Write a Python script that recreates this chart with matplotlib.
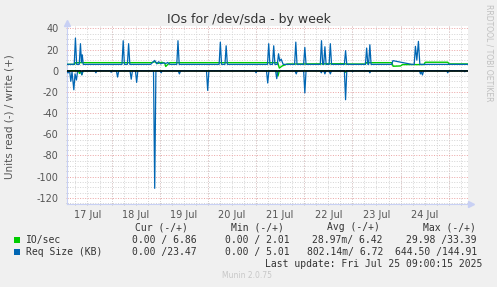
import matplotlib
matplotlib.use("Agg")
import matplotlib.pyplot as plt
from matplotlib.ticker import FixedLocator, MultipleLocator
from matplotlib.patches import Rectangle

plt.rcParams['axes.unicode_minus'] = False
plt.rcParams['font.family'] = ['DejaVu Sans']

# ---------------- data (time in hours since 17 Jul 00:00) ----------------
day_labels = ["17 Jul", "18 Jul", "19 Jul", "20 Jul", "21 Jul", "22 Jul", "23 Jul", "24 Jul"]
day_label_hours = [12, 36, 60, 84, 108, 132, 156, 180]
day_boundaries = [24, 48, 72, 96, 120, 144, 168, 192]
x_range = [1.8, 201.6]
y_range = [-125.8, 42.2]

# IO/sec (green) - write (+)
io_write_t = [1.8, 5.5, 6.0, 44.0, 45.5, 47.0, 49.0, 50.5, 51.0, 51.5, 53.0,
              106.8, 107.6, 109.0, 111.5, 140.0, 141.0, 150.5, 151.0, 163.6,
              164.3, 168.0, 169.0, 179.7, 180.3, 191.5, 192.2, 201.6]
io_write_v = [6.0, 6.0, 7.6, 7.6, 8.5, 6.8, 8.0, 7.0, 4.0, 5.0, 7.6,
              7.6, 2.5, 4.5, 6.3, 6.6, 6.3, 6.3, 7.6, 7.6,
              4.2, 4.5, 5.8, 5.8, 8.0, 8.0, 6.4, 6.4]
# IO/sec (green) - read (-), magnitudes
io_read_t = [1.8, 7.5, 8.0, 8.6, 9.2, 9.8, 106.2, 106.9, 107.6, 139.9, 140.4, 141.0, 201.6]
io_read_v = [0, 0, 2.5, 1.0, 3.5, 0, 0, 5.0, 0, 0, 1.5, 0, 0]

# Req Size (KB) (blue) - write (+)
req_write_t = [1.8,
               5.4, 6.0, 6.6,
               7.9, 8.5, 9.0, 9.4, 9.9,
               29.2, 29.8, 30.4,
               31.9, 32.5, 33.1,
               43.5, 44.5, 45.5, 46.5, 47.5, 48.5, 50.0, 51.0, 52.0, 53.0,
               56.5, 57.1, 57.7,
               77.6, 78.2, 78.8,
               80.5, 81.1, 81.7,
               101.7, 102.3, 102.9,
               104.2, 104.8, 105.4,
               106.6, 107.2, 107.8, 108.5, 109.5,
               115.2, 115.8, 116.4,
               119.7, 120.3, 120.9,
               128.0, 128.6, 129.2,
               129.7, 130.3, 130.9,
               132.4, 133.0, 133.6,
               140.0, 140.6, 141.2,
               150.5, 151.1, 151.7,
               152.1, 152.7, 153.3,
               163.6, 164.2, 173.5,
               174.8, 175.4, 176.1, 176.9, 177.6,
               201.6]
req_write_v = [6.0,
               6.0, 30.8, 6.0,
               6.0, 25.5, 8.0, 15.0, 6.0,
               6.0, 28.3, 6.0,
               6.0, 25.5, 6.0,
               6.0, 8.0, 9.7, 6.5, 8.5, 6.5, 7.5, 6.8, 7.8, 6.0,
               6.0, 28.3, 6.0,
               6.0, 27.0, 6.0,
               6.0, 23.5, 6.0,
               6.0, 25.5, 6.0,
               6.0, 23.5, 6.0,
               6.0, 16.0, 9.0, 11.0, 6.0,
               6.0, 27.0, 6.0,
               6.0, 22.0, 6.0,
               6.0, 28.3, 6.0,
               6.0, 22.6, 6.0,
               6.0, 25.5, 6.0,
               6.0, 18.9, 6.0,
               6.0, 21.4, 6.0,
               6.0, 24.5, 6.0,
               6.0, 9.5, 6.0,
               6.0, 23.0, 10.0, 27.7, 6.0,
               6.0]
# Req Size (KB) (blue) - read (-), magnitudes
req_read_t = [1.8, 2.3, 2.9,
              3.1, 3.7, 4.3, 5.2, 5.8, 6.5, 7.1,
              8.6, 9.2, 9.8,
              15.7, 16.2, 16.7,
              23.3, 23.8, 24.3,
              26.4, 27.0, 27.6,
              33.2, 33.8, 34.4,
              35.9, 36.5, 37.1,
              44.9, 45.5, 46.1,
              48.2, 48.7, 49.2,
              57.2, 57.8, 58.4,
              71.3, 71.9, 72.5,
              95.5, 96.0, 96.5,
              101.2, 101.8, 102.4,
              105.7, 106.3, 106.9,
              115.4, 116.0, 116.6,
              119.7, 120.3, 120.9,
              128.0, 128.5, 129.0,
              129.7, 130.3, 130.9,
              132.4, 133.0, 133.6,
              140.0, 140.6, 141.2,
              143.6, 144.1, 144.6,
              152.2, 152.7, 153.2,
              177.4, 177.9, 178.4, 178.9, 179.5,
              191.0, 191.5, 192.0,
              199.5, 200.0, 200.5, 201.6]
req_read_v = [0.5, 2.2, 0,
              0, 10.0, 1.0, 18.0, 3.0, 8.8, 0,
              0, 4.0, 0,
              0, 2.0, 0,
              0, 1.5, 0,
              0, 6.0, 0,
              0, 8.0, 0,
              0, 11.0, 0,
              0, 111.0, 0,
              0, 2.0, 0,
              0, 3.0, 0,
              0, 18.6, 0,
              0, 2.0, 0,
              0, 11.6, 0,
              0, 7.5, 0,
              0, 3.0, 0,
              0, 21.0, 0,
              0, 2.0, 0,
              0, 3.0, 0,
              0, 3.0, 0,
              0, 27.4, 0,
              0, 1.0, 0,
              0, 2.0, 0,
              0, 3.0, 1.0, 4.0, 0,
              0, 2.0, 0,
              0, 1.0, 0, 0]

series_names = ["IO/sec", "Req Size (KB)"]
series_colors = ["#00cc00", "#0066b3"]
cur_vals = ["0.00 / 6.86", "0.00 /23.47"]
min_vals = ["0.00 / 2.01", "0.00 / 5.01"]
avg_vals = ["28.97m/ 6.42", "802.14m/ 6.72"]
max_vals = ["29.98 /33.39", "644.50 /144.91"]
col_headers = ["Cur (-/+)", "Min (-/+)", "Avg (-/+)", "Max (-/+)"]
last_update = "Last update: Fri Jul 25 09:00:15 2025"

# ---------------- figure ----------------
W, H = 497, 287
fig = plt.figure(figsize=(W / 100, H / 100), dpi=100, facecolor='#f0f0f0')
ax = fig.add_axes([67 / W, 1 - 204 / H, (468 - 67) / W, (204 - 26) / H])
ax.set_facecolor('white')
ax.set_xlim(*x_range)
ax.set_ylim(*y_range)

major_red = '#eba3a3'
minor_gray = '#d4d4d4'
dots = (0, (1, 1.6))

ax.xaxis.set_major_locator(FixedLocator(day_label_hours))
ax.xaxis.set_minor_locator(FixedLocator(list(range(6, 202, 6))))
ax.xaxis.remove_overlapping_locs = False
ax.set_xticks(day_label_hours)
ax.set_xticklabels(day_labels)
ax.yaxis.set_major_locator(MultipleLocator(20))
ax.yaxis.set_minor_locator(MultipleLocator(5))

ax.grid(which='minor', axis='both', color=minor_gray, ls=dots, lw=0.7, zorder=0)
ax.grid(which='major', axis='y', color=major_red, ls=dots, lw=0.7, zorder=0)
for b in day_boundaries:
    ax.axvline(b, color=major_red, ls=dots, lw=0.7, zorder=0.5)

ax.tick_params(axis='x', which='major', length=0, pad=4, labelsize=7, labelcolor='#555555')
ax.tick_params(axis='x', which='minor', length=2, direction='inout', color='#bbbbbb', width=0.6)
ax.tick_params(axis='y', which='major', length=2, direction='inout', color=major_red, width=0.6,
               pad=5, labelsize=7, labelcolor='#555555')
ax.tick_params(axis='y', which='minor', length=2, direction='inout', color='#bbbbbb', width=0.6)

for s in ['top', 'right']:
    ax.spines[s].set_visible(False)
for s in ['left', 'bottom']:
    ax.spines[s].set_color('#c8d0f4')
    ax.spines[s].set_linewidth(0.8)

# arrows on the axes
ax.plot([0], [1.015], marker='^', ms=5, color='#c8d0f4', transform=ax.transAxes, clip_on=False)
ax.plot([1.007], [0], marker='>', ms=5, color='#c8d0f4', transform=ax.transAxes, clip_on=False)

# data lines
ax.plot(io_write_t, io_write_v, color=series_colors[0], lw=1.0, zorder=3)
ax.plot(io_read_t, [-v for v in io_read_v], color=series_colors[0], lw=1.0, zorder=3)
ax.plot(req_write_t, req_write_v, color=series_colors[1], lw=0.9, zorder=4)
ax.plot(req_read_t, [-v for v in req_read_v], color=series_colors[1], lw=0.9, zorder=4)
ax.axhline(0, color='black', lw=1.1, zorder=5)

# ---------------- texts ----------------
def fx(px):
    return px / W

def fy(py):
    return 1 - py / H

fig.text(fx(248.5), fy(19), 'IOs for /dev/sda - by week', ha='center', va='center',
         fontsize=9, color='#333333')
fig.text(fx(10), fy(117), 'Units read (-) / write (+)', rotation=90, ha='center', va='center',
         fontsize=7.5, color='#555555')
fig.text(fx(488.5), fy(53), 'RRDTOOL / TOBI OETIKER', rotation=270, ha='center', va='center',
         fontsize=5.5, color='#c0c0c0')

mono = dict(family='DejaVu Sans Mono', fontsize=7, color='#333333', va='center')
header_left = [135, 231, 327, 423]
for hx, htxt in zip(header_left, col_headers):
    fig.text(fx(hx), fy(227), htxt, ha='left', **mono)

col_end = [197, 290, 383, 477]
row_y = [240, 252]
for i in range(2):
    fig.patches.append(Rectangle((fx(14), fy(row_y[i] + 3)), 6 / W, 6 / H,
                                 transform=fig.transFigure, facecolor=series_colors[i],
                                 edgecolor='none'))
    fig.text(fx(26), fy(row_y[i]), series_names[i], ha='left', **mono)
    for col, vals in enumerate([cur_vals, min_vals, avg_vals, max_vals]):
        fig.text(fx(col_end[col]), fy(row_y[i]), vals[i], ha='right', **mono)

fig.text(fx(482), fy(264), last_update, ha='right', **mono)
fig.text(fx(247.5), fy(276), 'Munin 2.0.75', ha='center', va='center', fontsize=5.5, color='#c8c8c8')

fig.savefig('out.png', dpi=100, facecolor=fig.get_facecolor())
